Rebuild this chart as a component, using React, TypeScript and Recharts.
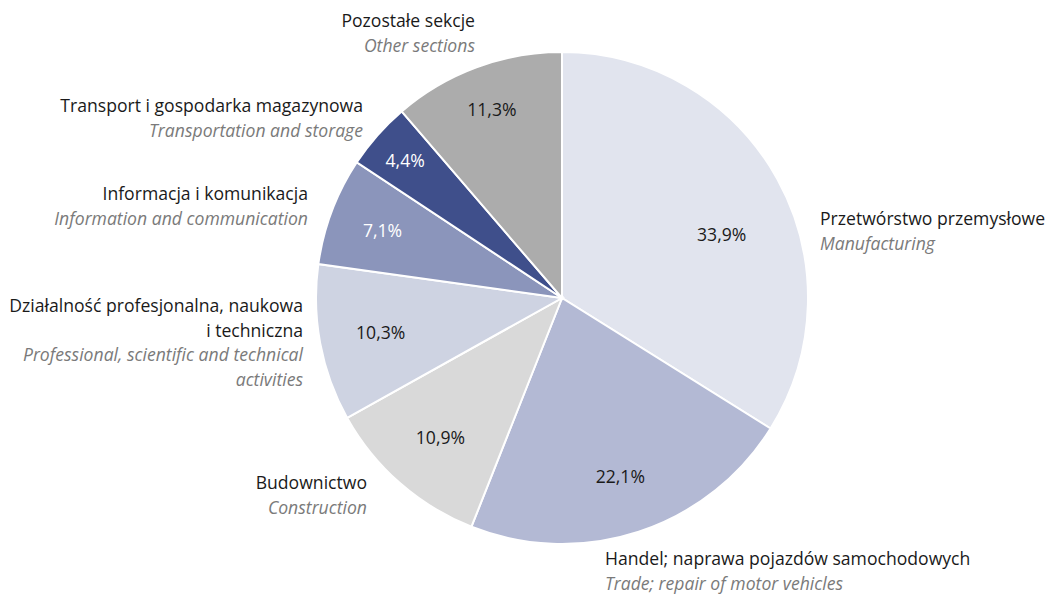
import React from 'react';
import { PieChart, Pie, Cell } from 'recharts';

// sections, clockwise from 12 o'clock
const namesPl = [
  ['Przetwórstwo przemysłowe'],
  ['Handel; naprawa pojazdów samochodowych'],
  ['Budownictwo'],
  ['Działalność profesjonalna, naukowa', 'i techniczna'],
  ['Informacja i komunikacja'],
  ['Transport i gospodarka magazynowa'],
  ['Pozostałe sekcje'],
];
const namesEn = [
  ['Manufacturing'],
  ['Trade; repair of motor vehicles'],
  ['Construction'],
  ['Professional, scientific and technical', 'activities'],
  ['Information and communication'],
  ['Transportation and storage'],
  ['Other sections'],
];
const shares = [33.9, 22.1, 10.9, 10.3, 7.1, 4.4, 11.3];

const colors = ['#e1e4ee', '#b3b9d4', '#d9d9d9', '#ced3e2', '#8b95bb', '#3f4f8b', '#acacac'];
const valueColors = ['#1a1a1a', '#1a1a1a', '#1a1a1a', '#1a1a1a', '#ffffff', '#ffffff', '#1a1a1a'];

// where the value sits inside its slice (fraction of radius, angle nudge in degrees)
const valueRadius = [0.7, 0.76, 0.75, 0.75, 0.78, 0.85, 0.82];
const valueAngleShift = [-7, 0, 0, 0, 0, 0, 0];

// outer name labels, offset from the pie centre
const namePlacement = [
  { dx: 258, dy: -80, anchor: 'start' },
  { dx: 43, dy: 260, anchor: 'start' },
  { dx: -195, dy: 184, anchor: 'end' },
  { dx: -259, dy: 7, anchor: 'end' },
  { dx: -254, dy: -105, anchor: 'end' },
  { dx: -199, dy: -193, anchor: 'end' },
  { dx: -87, dy: -278, anchor: 'end' },
];

const data = shares.map((v, i) => ({ name: namesPl[i].join(' '), value: v }));

const FONT = '"Open Sans", "Noto Sans", sans-serif';
const SIZE = 17.6;
const LINE = 24.5;

const RADIAN = Math.PI / 180;

const renderLabel = (props: any) => {
  const { cx, cy, midAngle, outerRadius, index, value } = props;
  const ang = (midAngle + valueAngleShift[index]) * RADIAN;
  const r = outerRadius * valueRadius[index];
  const vx = cx + r * Math.cos(ang);
  const vy = cy - r * Math.sin(ang);
  const p = namePlacement[index];
  const lines = [
    ...namesPl[index].map((t) => ({ t, italic: false })),
    ...namesEn[index].map((t) => ({ t, italic: true })),
  ];
  return (
    <g>
      <text
        x={vx}
        y={vy}
        textAnchor="middle"
        dominantBaseline="central"
        fill={valueColors[index]}
        fontSize={SIZE}
        fontFamily={FONT}
      >
        {value.toFixed(1).replace('.', ',')}%
      </text>
      {lines.map((l, k) => (
        <text
          key={k}
          x={cx + p.dx}
          y={cy + p.dy + k * LINE}
          textAnchor={p.anchor}
          dominantBaseline="central"
          fill={l.italic ? '#7a7a7a' : '#1a1a1a'}
          fontStyle={l.italic ? 'italic' : 'normal'}
          fontSize={SIZE}
          fontFamily={FONT}
        >
          {l.t}
        </text>
      ))}
    </g>
  );
};

export default function App() {
  return (
    <div style={{ position: 'absolute', left: 0, top: 0, width: 1046, height: 594, background: '#fff' }}>
      <PieChart width={1046} height={594} margin={{ top: 0, right: 0, bottom: 0, left: 0 }}>
        <Pie
          data={data}
          dataKey="value"
          nameKey="name"
          cx={562}
          cy={298}
          outerRadius={246}
          startAngle={90}
          endAngle={-270}
          stroke="#ffffff"
          strokeWidth={2}
          label={renderLabel}
          labelLine={false}
          isAnimationActive={false}
        >
          {data.map((d, i) => (
            <Cell key={d.name} fill={colors[i]} />
          ))}
        </Pie>
      </PieChart>
    </div>
  );
}
